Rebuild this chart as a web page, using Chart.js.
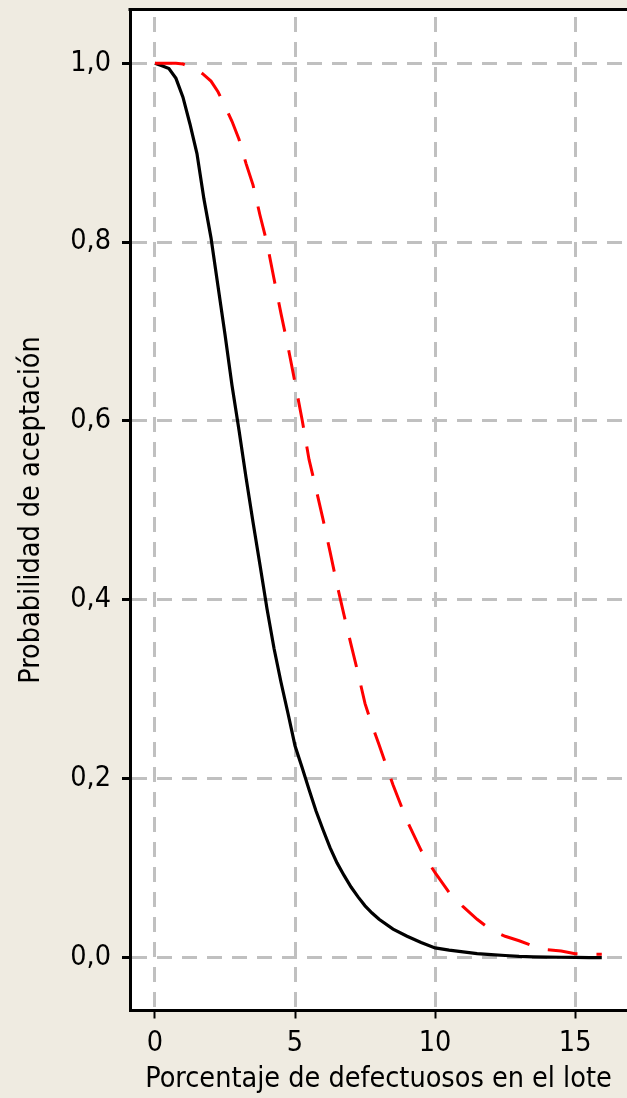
<!DOCTYPE html>
<html>
<head>
<meta charset="utf-8">
<style>
html,body{margin:0;padding:0;background:#EFEBE1;overflow:hidden;}
#wrap{width:627px;height:1098px;position:relative;}
canvas{display:block;}
</style>
<script src="https://cdn.jsdelivr.net/npm/chart.js@4.4.0/dist/chart.umd.min.js"></script>
</head>
<body>
<div id="wrap"><canvas id="c" width="627" height="1098"></canvas></div>
<script>
// Percent defective in the lot
const pct = [0,0.25,0.5,0.75,1,1.25,1.5,1.75,2,2.25,2.5,2.75,3,3.25,3.5,3.75,4,4.25,4.5,4.75,5,5.25,5.5,5.75,6,6.25,6.5,6.75,7,7.25,7.5,7.75,8,8.5,9,9.5,10,10.5,11,11.5,12,12.5,13,13.5,14,14.5,15,15.5,15.95];
// Probability of acceptance, plan drawn in black (solid)
const planBlack = [1.000,0.997,0.994,0.983,0.962,0.932,0.899,0.848,0.805,0.751,0.697,0.640,0.590,0.537,0.487,0.439,0.390,0.346,0.308,0.273,0.237,0.213,0.188,0.164,0.143,0.123,0.106,0.092,0.079,0.068,0.058,0.050,0.043,0.032,0.024,0.017,0.011,0.0085,0.0065,0.0045,0.0035,0.0025,0.0015,0.001,0.0007,0.0005,0.0003,0.0002,0.0002];
// Probability of acceptance, plan drawn in red (dashed)
const planRed = [1.000,1.000,1.000,1.000,0.999,0.996,0.993,0.987,0.980,0.968,0.952,0.935,0.915,0.888,0.864,0.830,0.799,0.759,0.720,0.683,0.643,0.602,0.557,0.524,0.490,0.454,0.417,0.383,0.350,0.318,0.284,0.260,0.238,0.193,0.153,0.120,0.095,0.073,0.057,0.043,0.031,0.024,0.019,0.013,0.009,0.0075,0.0045,0.004,0.004];
const xTicks = [0,5,10,15];
const xTickLabels = ['0','5','10','15'];
const yTicks = [0,0.2,0.4,0.6,0.8,1.0];
const yTickLabels = ['0,0','0,2','0,4','0,6','0,8','1,0'];
const xTitle = 'Porcentaje de defectuosos en el lote';
const yTitle = 'Probabilidad de aceptación';

const FONT = "'DejaVu Sans Condensed', 'DejaVu Sans', sans-serif";

const plotFrame = {
  id: 'plotFrame',
  beforeDraw(chart) {
    const {ctx, chartArea: a} = chart;
    ctx.save();
    ctx.fillStyle = '#FFFFFF';
    ctx.fillRect(a.left, a.top, a.right - a.left, a.bottom - a.top);
    ctx.restore();
  },
  afterDraw(chart) {
    const {ctx, chartArea: a} = chart;
    ctx.save();
    ctx.strokeStyle = '#000';
    ctx.lineWidth = 3;
    ctx.beginPath();
    ctx.moveTo(a.left - 1.5, a.top);
    ctx.lineTo(a.right, a.top);
    ctx.stroke();
    ctx.restore();
  }
};

new Chart(document.getElementById('c'), {
  type: 'line',
  data: {
    datasets: [
      {
        label: 'Plan 2',
        data: pct.map((p, i) => ({x: p, y: planRed[i]})),
        borderColor: '#FF0000',
        borderWidth: 3,
        borderDash: [30, 19],
        pointRadius: 0,
        tension: 0,
        fill: false
      },
      {
        label: 'Plan 1',
        data: pct.map((p, i) => ({x: p, y: planBlack[i]})),
        borderColor: '#000000',
        borderWidth: 3.2,
        pointRadius: 0,
        tension: 0,
        fill: false
      }
    ]
  },
  options: {
    responsive: false,
    animation: false,
    devicePixelRatio: 1,
    layout: {padding: {top: 9.5, left: 0, right: 0, bottom: 0}},
    plugins: {legend: {display: false}, tooltip: {enabled: false}},
    scales: {
      x: {
        type: 'linear',
        min: -0.89,
        max: 16.85,
        afterBuildTicks(s) { s.ticks = xTicks.map(v => ({value: v})); },
        afterFit(s) { s.height = 87.5; s.paddingLeft = 0; s.paddingRight = 0; },
        ticks: {
          includeBounds: false,
          autoSkip: false,
          maxRotation: 0,
          color: '#000',
          padding: 8,
          font: {family: FONT, size: 28.5},
          callback: (v) => xTickLabels[xTicks.indexOf(v)]
        },
        grid: {
          color: '#C0C0C0',
          lineWidth: 3,
          drawTicks: true,
          tickLength: 8,
          tickColor: '#000',
          tickWidth: 2,
          tickBorderDash: []
        },
        border: {display: true, color: '#000', width: 3, dash: [15, 10], dashOffset: 17.5},
        title: {
          display: true,
          text: xTitle,
          color: '#000',
          font: {family: FONT, size: 28.5},
          padding: {top: 0, bottom: 1}
        }
      },
      y: {
        type: 'linear',
        min: -0.059,
        max: 1.06,
        afterBuildTicks(s) { s.ticks = yTicks.map(v => ({value: v})); },
        afterFit(s) { s.width = 130; s.paddingTop = 0; s.paddingBottom = 0; },
        ticks: {
          includeBounds: false,
          autoSkip: false,
          color: '#000',
          padding: 11,
          font: {family: FONT, size: 28.5},
          callback: (v) => yTickLabels[yTicks.indexOf(v)]
        },
        grid: {
          color: '#C0C0C0',
          lineWidth: 3,
          drawTicks: true,
          tickLength: 8,
          tickColor: '#000',
          tickWidth: 3,
          tickBorderDash: []
        },
        border: {display: true, color: '#000', width: 3, dash: [15, 10], dashOffset: 0},
        title: {
          display: true,
          text: yTitle,
          color: '#000',
          font: {family: FONT, size: 28.5},
          padding: {top: 14, bottom: 0}
        }
      }
    }
  },
  plugins: [plotFrame]
});
</script>
</body>
</html>
